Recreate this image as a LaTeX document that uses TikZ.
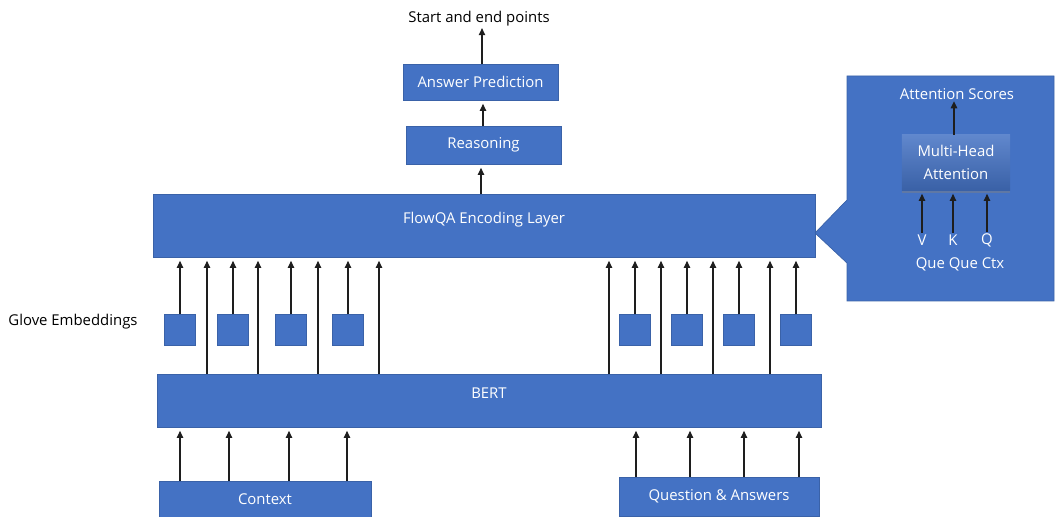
\documentclass[tikz,border=0pt]{standalone}
\usepackage{fontspec}
\setmainfont{Open Sans}
\usetikzlibrary{arrows.meta,shadows}

\definecolor{boxblue}{HTML}{4472C4}
\definecolor{boxline}{HTML}{3A62A8}
\definecolor{inkgray}{HTML}{1E1E1E}

\begin{document}
\begin{tikzpicture}[x=0.025cm,y=-0.025cm,
  blk/.style={draw=boxline,line width=0.5pt,fill=boxblue,text=white,inner sep=0pt,font=\fontsize{10.6}{12.5}\selectfont},
  emb/.style={blk,minimum width=0.78cm,minimum height=0.78cm},
  arr/.style={inkgray,line width=0.8pt,-{Triangle[length=5pt,width=4.6pt]}},
  gap/.style={shorten >=2.5pt},
  lbl/.style={inner sep=1pt,font=\fontsize{10.6}{12.5}\selectfont}]
\useasboundingbox (0,0) rectangle (1055,517);

%--- output side
\node[lbl] (pts) at (479,19) {Start and end points};
\node[blk,minimum width=3.875cm,minimum height=0.9cm] (ans) at (480.5,82) {Answer Prediction};
\node[blk,minimum width=3.875cm,minimum height=0.95cm] (rsn) at (483.5,145) {Reasoning};
\node[blk,minimum width=16.55cm,minimum height=1.575cm,text depth=11pt] (flow) at (484,225.5) {FlowQA Encoding Layer};

\draw[arr] (ans.north -| 482,0) -- (pts.south -| 482,0);
\draw[arr,gap] (rsn.north -| 483,0) -- (ans.south -| 483,0);
\draw[arr,gap] (flow.north -| 481,0) -- (rsn.south -| 481,0);

%--- attention callout
\draw[boxline,line width=0.5pt,fill=boxblue] (847,76) -- (1054,76) -- (1054,301) -- (847,301)
  -- (847,263) -- (815,233) -- (847,200) -- cycle;
\node[lbl,text=white] (scr) at (957,94) {Attention Scores};
\node[blk,draw=none,top color=boxblue!85!white,bottom color=boxblue!85!black,
  drop shadow={opacity=0.45,shadow xshift=0pt,shadow yshift=-2pt},
  minimum width=2.7cm,minimum height=1.375cm,align=center] (mha) at (956,162.5) {Multi-Head\\[4pt]Attention};
\node[lbl,text=white] (v) at (922,240) {V};
\node[lbl,text=white] (k) at (953,240) {K};
\node[lbl,text=white] (q) at (987,240) {Q};
\node[lbl,text=white] (src) at (960,264) {Que Que Ctx};

\draw[arr] (mha.north -| 954,0) -- (scr.south -| 954,0);
\foreach \t in {v,k,q}
  \draw[arr,gap] (\t.north) -- (\t.north |- mha.south);

%--- embeddings between BERT and FlowQA
\node[lbl] (glove) at (73,322) {Glove Embeddings};
\node[blk,minimum width=16.6cm,minimum height=1.325cm,text depth=11pt] (bert) at (489,400.5) {BERT};

\foreach \x [count=\i] in {180,233,291,348,635,687,739,796}
  \node[emb] (g\i) at (\x,330) {};
\foreach \i in {1,...,8}
  \draw[arr,gap] (g\i.north) -- (g\i.north |- flow.south);

\foreach \x [count=\i] in {207,258,318,379,609,661,713,770} {
  \coordinate (b\i) at (\x,374);
  \draw[arr,gap] (b\i) -- (b\i |- flow.south);
}

%--- inputs
\node[blk,minimum width=5.3cm,minimum height=0.925cm] (ctx) at (265,499.5) {Context};
\node[blk,minimum width=5cm,minimum height=0.975cm] (qa) at (719,496.5) {Question \& Answers};

\foreach \x [count=\i] in {180,229,289,347} {
  \coordinate (c\i) at (\x,481);
  \draw[arr,gap] (c\i) -- (c\i |- bert.south);
}
\foreach \x [count=\i] in {636,690,744,799} {
  \coordinate (d\i) at (\x,477);
  \draw[arr,gap] (d\i) -- (d\i |- bert.south);
}
\end{tikzpicture}
\end{document}
